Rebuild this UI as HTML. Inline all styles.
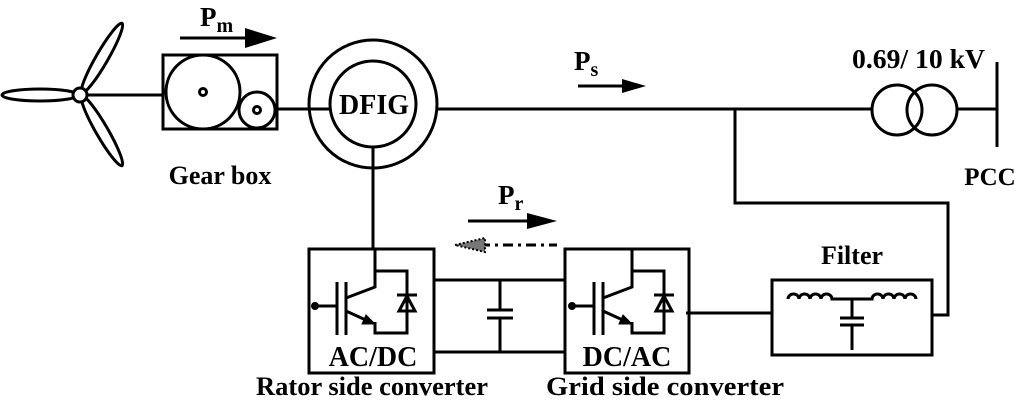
<!DOCTYPE html>
<html><head><meta charset="utf-8"><style>
html,body{margin:0;padding:0;background:#fff}
svg{display:block}
text{font-family:"Liberation Serif",serif;font-weight:bold;fill:#000}
</style></head><body>
<svg width="1024" height="401" viewBox="0 0 1024 401" xmlns="http://www.w3.org/2000/svg">
<defs>
<g id="igbt" fill="none" stroke="#000" stroke-width="3">
<circle cx="315" cy="306" r="2.5" fill="#000"/>
<line x1="315" y1="306" x2="337" y2="306"/>
<line x1="337" y1="282" x2="337" y2="335"/>
<line x1="346" y1="282" x2="346" y2="335"/>
<polyline points="346,298 375,287 375,248"/>
<polyline points="375,271 407,271 407,333 375,333 375,322"/>
<line x1="346" y1="311" x2="368" y2="321"/>
<polygon points="375,324 362,324 366,315" fill="#000" stroke-width="1"/>
<line x1="397" y1="295" x2="417" y2="295"/>
<polygon points="407,296 399,311 415,311"/>
</g>
</defs>
<g fill="none" stroke="#000" stroke-width="3">
<ellipse cx="40" cy="95" rx="38" ry="6"/>
<ellipse cx="102" cy="58" rx="40" ry="6" transform="rotate(-60 102 58)"/>
<ellipse cx="102" cy="131" rx="40" ry="6" transform="rotate(60 102 131)"/>
<circle cx="80" cy="95" r="7" fill="#fff"/>
<line x1="87" y1="95" x2="163" y2="95"/>
<rect x="163" y="55" width="114" height="74"/>
<circle cx="203" cy="92" r="37"/>
<circle cx="203" cy="92" r="3.5"/>
<circle cx="257" cy="110" r="18"/>
<circle cx="257" cy="110" r="3.5"/>
<line x1="277" y1="109" x2="330" y2="109"/>
<line x1="180" y1="38" x2="250" y2="38"/>
<circle cx="373" cy="104" r="64"/>
<circle cx="373" cy="104" r="43"/>
<line x1="437" y1="109" x2="872" y2="109"/>
<line x1="373" y1="147" x2="373" y2="249"/>
<line x1="578" y1="86" x2="630" y2="86"/>
<circle cx="897" cy="110" r="25"/>
<circle cx="932" cy="110" r="25"/>
<line x1="957" y1="109" x2="997" y2="109"/>
<line x1="997" y1="62" x2="997" y2="147"/>
<polyline points="735,109 735,203 948,203 948,315 932,315"/>
<rect x="772" y="280" width="160" height="75"/>
<line x1="686" y1="313" x2="772" y2="313"/>
<path d="M788,299 a5.5,5 0 0 1 11,0 a5.5,5 0 0 1 11,0 a5.5,5 0 0 1 11,0 a5.5,5 0 0 1 11,0 L872,299 a5.5,5 0 0 1 11,0 a5.5,5 0 0 1 11,0 a5.5,5 0 0 1 11,0 a5.5,5 0 0 1 11,0"/>
<line x1="852" y1="299" x2="852" y2="318"/>
<line x1="840" y1="318" x2="864" y2="318"/>
<line x1="840" y1="325" x2="864" y2="325"/>
<line x1="852" y1="325" x2="852" y2="350"/>
<rect x="309" y="249" width="125" height="124"/>
<rect x="565" y="249" width="124" height="124"/>
<line x1="434" y1="280" x2="565" y2="280"/>
<line x1="434" y1="352" x2="565" y2="352"/>
<line x1="500" y1="280" x2="500" y2="310"/>
<line x1="487" y1="310" x2="513" y2="310"/>
<line x1="487" y1="318" x2="513" y2="318"/>
<line x1="500" y1="318" x2="500" y2="352"/>
<line x1="468" y1="221" x2="530" y2="221"/>
<line x1="480" y1="245" x2="557" y2="245" stroke-dasharray="10,5,3,5"/>
</g>
<use href="#igbt"/>
<use href="#igbt" transform="translate(257,0)"/>
<polygon points="245,28 277,38 245,48" fill="#000"/>
<polygon points="622,79 646,86 622,93" fill="#000"/>
<polygon points="527,213 557,221 527,229" fill="#000"/>
<polygon points="455,245 485,238 485,252" fill="#777" stroke="#000" stroke-width="2" stroke-dasharray="2,2"/>
<text x="200" y="26" font-size="27">P<tspan font-size="20" dy="6">m</tspan></text>
<text x="574" y="70" font-size="27">P<tspan font-size="20" dy="6">s</tspan></text>
<text x="498" y="204" font-size="27">P<tspan font-size="20" dy="6">r</tspan></text>
<text x="374" y="114" font-size="28" text-anchor="middle">DFIG</text>
<text x="220" y="184" font-size="26" text-anchor="middle">Gear box</text>
<text x="852" y="68" font-size="27" textLength="133" lengthAdjust="spacingAndGlyphs">0.69/ 10 kV</text>
<text x="990" y="185" font-size="25" text-anchor="middle">PCC</text>
<text x="852" y="264" font-size="26" text-anchor="middle">Filter</text>
<text x="373" y="366" font-size="28" text-anchor="middle">AC/DC</text>
<text x="627" y="366" font-size="28" text-anchor="middle">DC/AC</text>
<text x="256" y="395" font-size="26" textLength="232" lengthAdjust="spacingAndGlyphs">Rator side converter</text>
<text x="546" y="395" font-size="26" textLength="238" lengthAdjust="spacingAndGlyphs">Grid side converter</text>
</svg>
</body></html>
